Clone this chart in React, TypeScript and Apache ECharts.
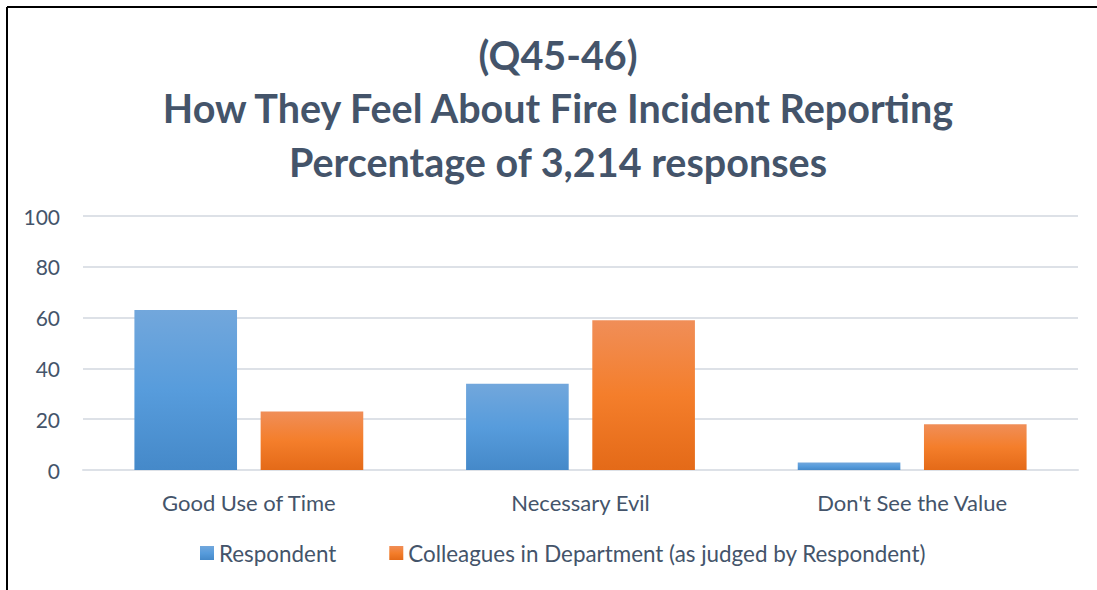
import React, { useEffect, useRef } from "react";
import * as echarts from "echarts";

const titleLines = [
  "(Q45-46)",
  "How They Feel About Fire Incident Reporting",
  "Percentage of 3,214 responses",
];
const categories = ["Good Use of Time", "Necessary Evil", "Don't See the Value"];
const seriesNames = [
  "Respondent",
  "Colleagues in Department (as judged by Respondent)",
];
const respondentValues = [63, 34, 3];
const colleagueValues = [23, 59, 18];

const TEXT = "#44546A";
const FONT = "Lato, 'Open Sans', sans-serif";

const blueFill = new echarts.graphic.LinearGradient(0, 0, 0, 1, [
  { offset: 0, color: "#72A7DC" },
  { offset: 0.5, color: "#579CDC" },
  { offset: 1, color: "#4589C9" },
]);
const orangeFill = new echarts.graphic.LinearGradient(0, 0, 0, 1, [
  { offset: 0, color: "#F08E58" },
  { offset: 0.5, color: "#F47E2B" },
  { offset: 1, color: "#E46A18" },
]);

export default function App() {
  const ref = useRef<HTMLDivElement>(null);

  useEffect(() => {
    if (!ref.current) return;
    const chart = echarts.init(ref.current, null, { renderer: "svg" });
    const titleY = [54, 107, 161];
    chart.setOption({
      animation: false,
      backgroundColor: "#ffffff",
      textStyle: { fontFamily: FONT },
      graphic: [
        {
          type: "line",
          shape: { x1: 7, y1: 7, x2: 1097, y2: 7 },
          style: { stroke: "#000000", lineWidth: 2 },
        },
        {
          type: "line",
          shape: { x1: 7, y1: 7, x2: 7, y2: 590 },
          style: { stroke: "#000000", lineWidth: 2 },
        },
        ...titleLines.map((t, i) => ({
          type: "text",
          x: 558,
          y: titleY[i],
          style: {
            text: t,
            fill: TEXT,
            font: `bold 39.5px ${FONT}`,
            textAlign: "center",
            textVerticalAlign: "middle",
          },
        })),
      ],
      grid: { left: 83, right: 19, top: 216, bottom: 120 },
      legend: {
        left: 195,
        top: 537,
        icon: "rect",
        itemWidth: 14,
        itemHeight: 14,
        itemGap: 53,
        textStyle: { color: TEXT, fontSize: 22.4, fontFamily: FONT },
        data: seriesNames,
      },
      xAxis: {
        type: "category",
        data: categories,
        axisLine: { show: true, lineStyle: { color: "#DDE1E7", width: 2 } },
        axisTick: { show: false },
        axisLabel: { color: TEXT, fontSize: 22, margin: 21, fontFamily: FONT },
      },
      yAxis: {
        type: "value",
        min: 0,
        max: 100,
        interval: 20,
        axisLine: { show: false },
        axisTick: { show: false },
        axisLabel: { color: TEXT, fontSize: 21, margin: 23, fontFamily: FONT },
        splitLine: { lineStyle: { color: "#DDE1E7", width: 2 } },
      },
      series: [
        {
          name: seriesNames[0],
          type: "bar",
          data: respondentValues,
          barGap: "23%",
          barCategoryGap: "31%",
          itemStyle: { color: blueFill },
        },
        {
          name: seriesNames[1],
          type: "bar",
          data: colleagueValues,
          itemStyle: { color: orangeFill },
        },
      ],
    });
    return () => chart.dispose();
  }, []);

  return (
    <div
      ref={ref}
      style={{ position: "fixed", left: 0, top: 0, width: 1097, height: 590 }}
    />
  );
}
